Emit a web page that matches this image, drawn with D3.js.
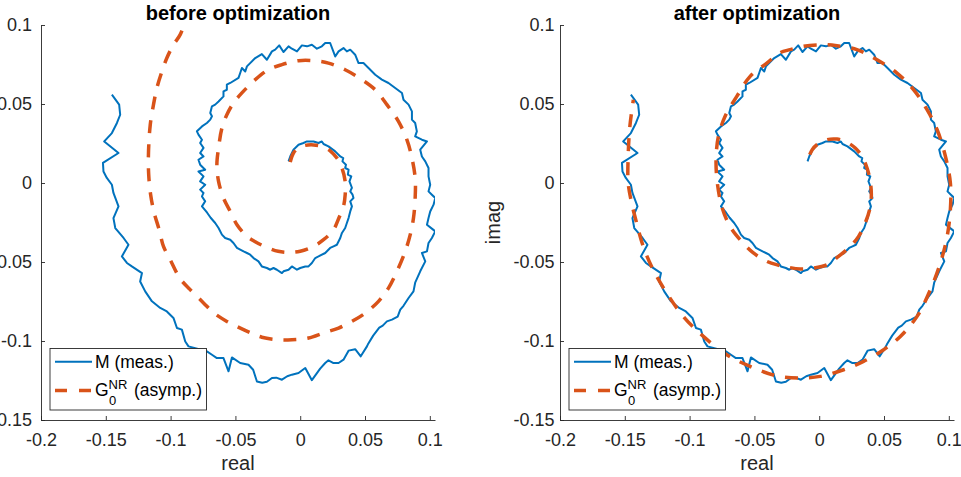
<!DOCTYPE html>
<html>
<head>
<meta charset="utf-8">
<script src="https://cdn.jsdelivr.net/npm/d3@7"></script>
<style>
  html, body { margin: 0; padding: 0; background: #fff; }
  svg { display: block; font-family: "Liberation Sans", Arial, Helvetica, sans-serif; }
</style>
</head>
<body>
<svg id="chart" width="961" height="477"></svg>
<script>
// Measured frequency response M as [real, imag] pairs
const measuredM = [
  [-0.0090,0.0137],[-0.0077,0.0168],[-0.0052,0.0211],[-0.0013,0.0242],[0.0025,0.0253],[0.0052,0.0263],
  [0.0103,0.0263],[0.0141,0.0253],[0.0167,0.0263],[0.0180,0.0247],[0.0218,0.0232],[0.0270,0.0200],
  [0.0309,0.0168],[0.0332,0.0158],[0.0326,0.0137],[0.0353,0.0116],[0.0347,0.0095],[0.0373,0.0084],
  [0.0368,0.0053],[0.0394,0.0042],[0.0380,0.0010],[0.0399,-0.0030],[0.0386,-0.0053],[0.0404,-0.0074],
  [0.0411,-0.0095],[0.0386,-0.0116],[0.0399,-0.0148],[0.0386,-0.0180],[0.0373,-0.0222],[0.0360,-0.0253],
  [0.0347,-0.0285],[0.0322,-0.0316],[0.0309,-0.0348],[0.0283,-0.0391],[0.0257,-0.0401],[0.0231,-0.0411],
  [0.0193,-0.0443],[0.0141,-0.0465],[0.0116,-0.0475],[0.0090,-0.0506],[0.0064,-0.0528],[0.0039,-0.0528],
  [0.0000,-0.0538],[-0.0025,-0.0549],[-0.0064,-0.0528],[-0.0090,-0.0549],[-0.0129,-0.0559],[-0.0141,-0.0570],
  [-0.0180,-0.0549],[-0.0206,-0.0538],[-0.0231,-0.0549],[-0.0257,-0.0538],[-0.0296,-0.0528],[-0.0322,-0.0496],
  [-0.0360,-0.0475],[-0.0386,-0.0454],[-0.0411,-0.0443],[-0.0437,-0.0433],[-0.0463,-0.0422],[-0.0488,-0.0411],
  [-0.0515,-0.0380],[-0.0540,-0.0359],[-0.0579,-0.0348],[-0.0604,-0.0327],[-0.0630,-0.0285],[-0.0656,-0.0253],
  [-0.0691,-0.0220],[-0.0718,-0.0188],[-0.0758,-0.0148],[-0.0733,-0.0116],[-0.0758,-0.0085],[-0.0746,-0.0063],
  [-0.0772,-0.0042],[-0.0733,-0.0011],[-0.0772,0.0010],[-0.0746,0.0042],[-0.0785,0.0073],[-0.0733,0.0084],
  [-0.0772,0.0116],[-0.0785,0.0147],[-0.0746,0.0168],[-0.0772,0.0190],[-0.0746,0.0222],[-0.0772,0.0253],
  [-0.0758,0.0274],[-0.0785,0.0306],[-0.0797,0.0327],[-0.0758,0.0358],[-0.0720,0.0380],[-0.0694,0.0401],
  [-0.0681,0.0422],[-0.0694,0.0443],[-0.0681,0.0485],[-0.0656,0.0496],[-0.0630,0.0516],[-0.0592,0.0548],
  [-0.0592,0.0580],[-0.0566,0.0590],[-0.0566,0.0622],[-0.0540,0.0633],[-0.0476,0.0665],[-0.0463,0.0696],
  [-0.0450,0.0728],[-0.0424,0.0706],[-0.0411,0.0738],[-0.0386,0.0759],[-0.0347,0.0791],[-0.0296,0.0816],
  [-0.0257,0.0780],[-0.0218,0.0833],[-0.0193,0.0844],[-0.0162,0.0871],[-0.0129,0.0829],[-0.0090,0.0865],
  [-0.0064,0.0850],[-0.0025,0.0833],[0.0013,0.0871],[0.0052,0.0865],[0.0090,0.0875],[0.0129,0.0850],
  [0.0167,0.0865],[0.0193,0.0886],[0.0231,0.0886],[0.0270,0.0801],[0.0296,0.0833],[0.0334,0.0854],
  [0.0360,0.0833],[0.0386,0.0844],[0.0424,0.0812],[0.0450,0.0759],[0.0488,0.0759],[0.0527,0.0728],
  [0.0579,0.0685],[0.0630,0.0654],[0.0681,0.0633],[0.0733,0.0601],[0.0785,0.0570],[0.0797,0.0527],
  [0.0836,0.0496],[0.0862,0.0453],[0.0862,0.0401],[0.0887,0.0380],[0.0900,0.0327],[0.0887,0.0295],
  [0.0939,0.0274],[0.0978,0.0263],[0.0926,0.0211],[0.0939,0.0168],[0.0965,0.0137],[0.0990,0.0095],
  [0.0990,0.0042],[0.1003,-0.0011],[0.0990,-0.0053],[0.1016,-0.0074],[0.1042,-0.0095],[0.1029,-0.0137],
  [0.1003,-0.0180],[0.0990,-0.0222],[0.0978,-0.0264],[0.1042,-0.0306],[0.1016,-0.0348],[0.0990,-0.0380],
  [0.0978,-0.0433],[0.0939,-0.0443],[0.0965,-0.0496],[0.0926,-0.0559],[0.0887,-0.0631],[0.0874,-0.0686],
  [0.0836,-0.0728],[0.0797,-0.0777],[0.0772,-0.0802],[0.0752,-0.0846],[0.0708,-0.0865],[0.0669,-0.0876],
  [0.0637,-0.0903],[0.0610,-0.0916],[0.0563,-0.0966],[0.0525,-0.1017],[0.0515,-0.1034],[0.0467,-0.1097],
  [0.0424,-0.1052],[0.0373,-0.1061],[0.0334,-0.1118],[0.0296,-0.1139],[0.0257,-0.1140],[0.0218,-0.1122],
  [0.0193,-0.1139],[0.0154,-0.1175],[0.0090,-0.1248],[0.0039,-0.1171],[-0.0013,-0.1203],[-0.0064,-0.1213],
  [-0.0100,-0.1223],[-0.0141,-0.1245],[-0.0185,-0.1232],[-0.0218,-0.1234],[-0.0257,-0.1258],[-0.0293,-0.1264],
  [-0.0334,-0.1256],[-0.0363,-0.1182],[-0.0399,-0.1150],[-0.0463,-0.1139],[-0.0527,-0.1104],[-0.0553,-0.1192],
  [-0.0592,-0.1108],[-0.0643,-0.1108],[-0.0681,-0.1087],[-0.0720,-0.1066],[-0.0795,-0.1049],[-0.0862,-0.1034],
  [-0.0887,-0.1003],[-0.0913,-0.0928],[-0.0951,-0.0918],[-0.0978,-0.0854],[-0.1029,-0.0813],[-0.1080,-0.0791],
  [-0.1144,-0.0749],[-0.1196,-0.0686],[-0.1235,-0.0623],[-0.1221,-0.0570],[-0.1299,-0.0528],[-0.1337,-0.0506],
  [-0.1376,-0.0465],[-0.1325,-0.0391],[-0.1363,-0.0348],[-0.1427,-0.0285],[-0.1441,-0.0222],[-0.1402,-0.0148],
  [-0.1441,-0.0063],[-0.1453,-0.0011],[-0.1492,0.0032],[-0.1518,0.0073],[-0.1522,0.0127],[-0.1402,0.0190],
  [-0.1512,0.0263],[-0.1453,0.0316],[-0.1414,0.0380],[-0.1389,0.0432],[-0.1397,0.0496],[-0.1453,0.0559]
];

// Asymptotic model G0^NR with the initial parameters, [real, imag]
const asympBefore = [
  [-0.0077,0.0132],[-0.0052,0.0190],[-0.0013,0.0222],[0.0039,0.0238],[0.0103,0.0241],[0.0167,0.0232],
  [0.0231,0.0204],[0.0283,0.0158],[0.0322,0.0095],[0.0347,0.0010],[0.0347,-0.0074],[0.0334,-0.0148],
  [0.0296,-0.0226],[0.0257,-0.0296],[0.0180,-0.0359],[0.0103,-0.0401],[0.0000,-0.0432],[-0.0077,-0.0439],
  [-0.0170,-0.0432],[-0.0270,-0.0403],[-0.0347,-0.0372],[-0.0411,-0.0338],[-0.0488,-0.0264],[-0.0540,-0.0180],
  [-0.0592,-0.0095],[-0.0630,0.0010],[-0.0643,0.0116],[-0.0630,0.0222],[-0.0604,0.0348],[-0.0566,0.0432],
  [-0.0515,0.0506],[-0.0450,0.0570],[-0.0347,0.0654],[-0.0245,0.0717],[-0.0141,0.0749],[-0.0013,0.0774],
  [0.0103,0.0774],[0.0218,0.0759],[0.0347,0.0717],[0.0476,0.0654],[0.0579,0.0590],[0.0669,0.0496],
  [0.0758,0.0390],[0.0823,0.0274],[0.0862,0.0158],[0.0887,0.0032],[0.0887,-0.0095],[0.0874,-0.0222],
  [0.0849,-0.0327],[0.0810,-0.0433],[0.0758,-0.0538],[0.0681,-0.0665],[0.0604,-0.0749],[0.0502,-0.0823],
  [0.0399,-0.0876],[0.0296,-0.0918],[0.0180,-0.0949],[0.0064,-0.0981],[-0.0064,-0.0992],[-0.0167,-0.0992],
  [-0.0296,-0.0976],[-0.0386,-0.0947],[-0.0488,-0.0908],[-0.0566,-0.0876],[-0.0669,-0.0821],[-0.0746,-0.0759],
  [-0.0849,-0.0675],[-0.0926,-0.0606],[-0.1003,-0.0485],[-0.1055,-0.0401],[-0.1088,-0.0296],[-0.1127,-0.0188],
  [-0.1154,-0.0074],[-0.1169,0.0053],[-0.1171,0.0179],[-0.1157,0.0369],[-0.1132,0.0496],[-0.1106,0.0601],
  [-0.1067,0.0706],[-0.1029,0.0791],[-0.0978,0.0875],[-0.0926,0.0939],[-0.0880,0.1046]
];

// Asymptotic model G0^NR with the optimized parameters, [real, imag]
const asympAfter = [
  [-0.0073,0.0179],[-0.0054,0.0211],[-0.0018,0.0242],[0.0060,0.0274],[0.0137,0.0278],[0.0201,0.0263],
  [0.0278,0.0222],[0.0330,0.0168],[0.0369,0.0095],[0.0394,0.0010],[0.0402,-0.0085],[0.0389,-0.0169],
  [0.0355,-0.0253],[0.0304,-0.0338],[0.0240,-0.0401],[0.0149,-0.0465],[0.0060,-0.0517],[-0.0044,-0.0538],
  [-0.0147,-0.0544],[-0.0250,-0.0532],[-0.0317,-0.0520],[-0.0404,-0.0496],[-0.0508,-0.0443],[-0.0611,-0.0359],
  [-0.0688,-0.0275],[-0.0752,-0.0148],[-0.0786,0.0000],[-0.0796,0.0147],[-0.0778,0.0295],[-0.0726,0.0422],
  [-0.0636,0.0548],[-0.0533,0.0675],[-0.0404,0.0759],[-0.0301,0.0825],[-0.0224,0.0844],[-0.0121,0.0865],
  [0.0033,0.0875],[0.0137,0.0869],[0.0291,0.0844],[0.0446,0.0780],[0.0600,0.0696],[0.0729,0.0590],
  [0.0832,0.0464],[0.0910,0.0337],[0.0974,0.0168],[0.1012,0.0000],[0.1012,-0.0169],[0.0987,-0.0338],
  [0.0935,-0.0506],[0.0858,-0.0675],[0.0755,-0.0844],[0.0626,-0.0971],[0.0497,-0.1055],[0.0342,-0.1129],
  [0.0188,-0.1182],[0.0008,-0.1224],[-0.0147,-0.1234],[-0.0332,-0.1220],[-0.0533,-0.1161],[-0.0713,-0.1087],
  [-0.0894,-0.0971],[-0.1049,-0.0844],[-0.1177,-0.0696],[-0.1281,-0.0549],[-0.1358,-0.0401],[-0.1409,-0.0253],
  [-0.1447,-0.0127],[-0.1474,0.0000],[-0.1474,0.0168],[-0.1461,0.0358],[-0.1434,0.0527]
];

const xDomain = [-0.2, 0.104];
const yDomain = [-0.15, 0.1];
const xTicks = [-0.2, -0.15, -0.1, -0.05, 0, 0.05, 0.1];
const xTickLabels = ["-0.2", "-0.15", "-0.1", "-0.05", "0", "0.05", "0.1"];
const yTicks = [-0.15, -0.1, -0.05, 0, 0.05, 0.1];
const yTickLabels = ["-0.15", "-0.1", "-0.05", "0", "0.05", "0.1"];
const panelTitles = ["before optimization", "after optimization"];
const xLabel = "real";
const yLabel = "imag";

const COLOR_M = "#0072BD";
const COLOR_G = "#D95319";
const AXIS_COLOR = "#262626";

const svg = d3.select("#chart");
svg.append("rect").attr("width", 961).attr("height", 477).attr("fill", "#fff");

const panels = [
  { left: 41, right: 435, title: panelTitles[0], model: asympBefore, showYLabel: false, yPad: 9 },
  { left: 560, right: 954, title: panelTitles[1], model: asympAfter, showYLabel: true, yPad: 5.5 }
];
const plotTop = 25, plotBottom = 420;

panels.forEach((p, i) => {
  const x = d3.scaleLinear().domain(xDomain).range([p.left, p.right]);
  const y = d3.scaleLinear().domain(yDomain).range([plotBottom, plotTop]);
  const g = svg.append("g");

  const clipId = "plotclip" + i;
  svg.append("clipPath").attr("id", clipId)
    .append("rect").attr("x", p.left).attr("y", plotTop)
    .attr("width", p.right - p.left).attr("height", plotBottom - plotTop);

  // axes (left + bottom only, ticks pointing inward)
  const xAxis = d3.axisBottom(x).tickValues(xTicks)
    .tickFormat((d, k) => xTickLabels[k]).tickSizeInner(-4).tickSizeOuter(0).tickPadding(13);
  const yAxis = d3.axisLeft(y).tickValues(yTicks)
    .tickFormat((d, k) => yTickLabels[k]).tickSizeInner(-4).tickSizeOuter(0).tickPadding(p.yPad);

  const gx = g.append("g").attr("transform", `translate(0,${plotBottom})`).call(xAxis);
  const gy = g.append("g").attr("transform", `translate(${p.left},0)`).call(yAxis);
  [gx, gy].forEach(a => {
    a.select(".domain").attr("stroke", AXIS_COLOR).attr("stroke-width", 0.9);
    a.selectAll(".tick line").attr("stroke", AXIS_COLOR).attr("stroke-width", 0.9);
    a.selectAll(".tick text").attr("fill", AXIS_COLOR)
      .style("font-family", '"Liberation Sans", Arial, Helvetica, sans-serif')
      .style("font-size", "18px");
  });

  // curves
  const line = d3.line().x(d => x(d[0])).y(d => y(d[1]));
  const smooth = d3.line().x(d => x(d[0])).y(d => y(d[1])).curve(d3.curveCatmullRom.alpha(0.5));
  const plot = g.append("g").attr("clip-path", `url(#${clipId})`);
  plot.append("path").datum(measuredM)
    .attr("d", line).attr("fill", "none").attr("stroke", COLOR_M)
    .attr("stroke-width", 2).attr("stroke-linejoin", "round");
  plot.append("path").datum(p.model)
    .attr("d", smooth).attr("fill", "none").attr("stroke", COLOR_G)
    .attr("stroke-width", 3.5).attr("stroke-dasharray", "13,11");

  // title and axis labels
  g.append("text").attr("x", (p.left + p.right) / 2).attr("y", 19.5)
    .attr("text-anchor", "middle").attr("font-weight", "bold").attr("font-size", 20)
    .attr("fill", "#000").text(p.title);
  g.append("text").attr("x", (p.left + p.right) / 2).attr("y", 469.5)
    .attr("text-anchor", "middle").attr("font-size", 20).attr("fill", AXIS_COLOR).text(xLabel);
  if (p.showYLabel) {
    g.append("text").attr("transform", `translate(${p.left - 60},${(plotTop + plotBottom) / 2}) rotate(-90)`)
      .attr("text-anchor", "middle").attr("font-size", 20).attr("fill", AXIS_COLOR).text(yLabel);
  }

  // legend
  const lx = p.left + 9;
  const lg = g.append("g");
  lg.append("rect").attr("x", lx).attr("y", 348.5).attr("width", 156.5).attr("height", 61.5)
    .attr("fill", "#fff").attr("stroke", AXIS_COLOR).attr("stroke-width", 0.9);
  lg.append("line").attr("x1", lx + 5).attr("x2", lx + 42).attr("y1", 361.7).attr("y2", 361.7)
    .attr("stroke", COLOR_M).attr("stroke-width", 2);
  lg.append("line").attr("x1", lx + 5).attr("x2", lx + 42).attr("y1", 390.5).attr("y2", 390.5)
    .attr("stroke", COLOR_G).attr("stroke-width", 3.5).attr("stroke-dasharray", "12,12");
  lg.append("text").attr("x", lx + 45).attr("y", 368.3).attr("font-size", 17.5).attr("fill", "#000")
    .text("M (meas.)");
  lg.append("text").attr("x", lx + 45).attr("y", 396).attr("font-size", 17.5).attr("fill", "#000").text("G");
  lg.append("text").attr("x", lx + 58.5).attr("y", 389.3).attr("font-size", 13).attr("fill", "#000").text("NR");
  lg.append("text").attr("x", lx + 59).attr("y", 404.5).attr("font-size", 13).attr("fill", "#000").text("0");
  lg.append("text").attr("x", lx + 84).attr("y", 396).attr("font-size", 17.5).attr("fill", "#000")
    .text("(asymp.)");
});
</script>
</body>
</html>
